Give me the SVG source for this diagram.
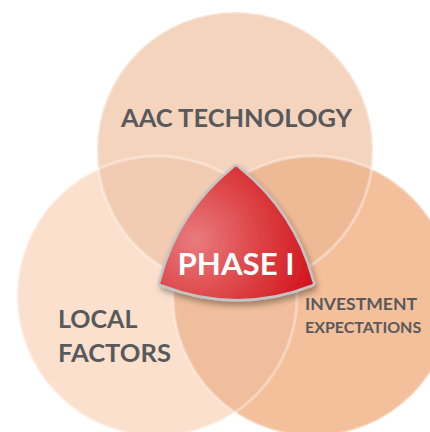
<svg xmlns="http://www.w3.org/2000/svg" width="430" height="432" viewBox="0 0 430 432">
<style>
.lbl{font-family:Lato,"Open Sans","Liberation Sans",sans-serif;font-weight:bold;fill:#58595B}
.ring{fill:none;stroke:#FFFFFF;stroke-opacity:0.35;stroke-width:3}
</style>
<defs>
<clipPath id="cTop"><circle cx="235" cy="150" r="138"/></clipPath>
<clipPath id="cLeft"><circle cx="157" cy="296" r="140"/></clipPath>
<clipPath id="cRight"><circle cx="313" cy="296" r="140"/></clipPath>
<radialGradient id="red" cx="195" cy="240" r="130" gradientUnits="userSpaceOnUse">
<stop offset="0" stop-color="#E97B7E"/>
<stop offset="0.55" stop-color="#DB3D3F"/>
<stop offset="1" stop-color="#D0101C"/>
</radialGradient>
<filter id="sh" x="-20%" y="-20%" width="140%" height="150%">
<feDropShadow dx="2" dy="4" stdDeviation="3" flood-color="#000" flood-opacity="0.35"/>
</filter>
</defs>
<rect width="430" height="432" fill="#FFFFFF"/>
<g id="circles">
<g id="local-factors"><circle cx="157" cy="296" r="140" fill="#FCE0CE"/></g>
<g id="investment"><circle cx="313" cy="296" r="140" fill="#F4BF9B"/></g>
<g id="aac-technology"><circle cx="235" cy="150" r="138" fill="#F5D4BD"/></g>
<g clip-path="url(#cLeft)"><circle cx="313" cy="296" r="140" fill="#F0BE9C"/></g>
<g clip-path="url(#cTop)"><circle cx="157" cy="296" r="140" fill="#F1CCB2"/></g>
<g clip-path="url(#cTop)"><circle cx="313" cy="296" r="140" fill="#EEBA96"/></g>
<circle class="ring" cx="157" cy="296" r="140"/>
<circle class="ring" cx="313" cy="296" r="140"/>
<circle class="ring" cx="235" cy="150" r="138"/>
</g>
<g id="phase">
<path d="M 160,280 A 210 210 0 0 1 232,168 Q 236,163 240,168 A 210 210 0 0 1 313,280 Q 316,285 311,286 A 200 200 0 0 1 163,286 Q 157,285 160,280 Z" fill="url(#red)" stroke="#C4C4C4" stroke-width="2.5" filter="url(#sh)"/>
<text x="236" y="275" text-anchor="middle" font-family="Lato,'Open Sans','Liberation Sans',sans-serif" font-weight="bold" font-size="31" fill="#FFFFFF" textLength="117" lengthAdjust="spacingAndGlyphs">PHASE I</text>
</g>
<g id="labels">
<text class="lbl" x="121" y="127" font-size="25" textLength="231" lengthAdjust="spacingAndGlyphs">AAC TECHNOLOGY</text>
<text class="lbl" x="58" y="328" font-size="25">LOCAL</text>
<text class="lbl" x="58" y="362" font-size="25" textLength="113" lengthAdjust="spacingAndGlyphs">FACTORS</text>
<text class="lbl" x="305" y="310" font-size="17" textLength="112" lengthAdjust="spacingAndGlyphs">INVESTMENT</text>
<text class="lbl" x="305" y="333" font-size="16">EXPECTATIONS</text>
</g>
</svg>
